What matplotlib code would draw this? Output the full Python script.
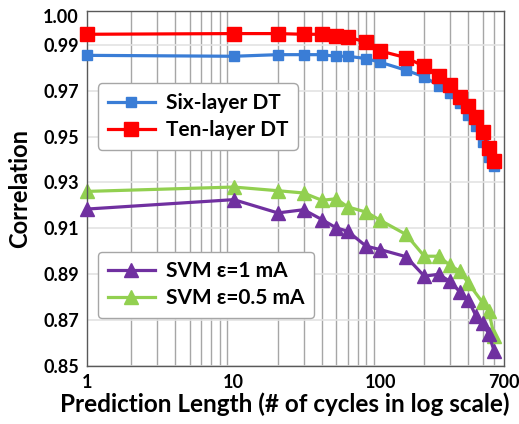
import matplotlib.pyplot as plt
from matplotlib.ticker import FixedLocator, NullFormatter

plt.rcParams['font.family'] = ['Lato', 'DejaVu Sans']

# prediction length (cycles)
x_dt = [1, 10, 20, 30, 40, 50, 60, 80, 100, 150, 200, 250, 300, 350, 400, 450, 500, 550, 600]
x_svm1 = [1, 10, 20, 30, 40, 50, 60, 80, 100, 150, 200, 250, 300, 350, 400, 450, 500, 550, 600]
x_svm05 = [1, 10, 20, 30, 40, 50, 60, 80, 100, 150, 200, 250, 300, 350, 400, 500, 550, 600]

six_layer = [0.9855, 0.9851, 0.9858, 0.9858, 0.9858, 0.9851, 0.9851, 0.9841, 0.9825, 0.9790,
             0.9761, 0.9723, 0.9689, 0.9645, 0.9594, 0.9547, 0.9478, 0.9410, 0.9370]
ten_layer = [0.9947, 0.9950, 0.9950, 0.9947, 0.9947, 0.9939, 0.9935, 0.9913, 0.9874, 0.9845,
             0.9807, 0.9764, 0.9725, 0.9672, 0.9634, 0.9588, 0.9522, 0.9450, 0.9394]
svm_1 = [0.9184, 0.9225, 0.9167, 0.9181, 0.9138, 0.9102, 0.9087, 0.9022, 0.9007, 0.8976,
         0.8891, 0.8899, 0.8868, 0.8822, 0.8786, 0.8718, 0.8685, 0.8640, 0.8563]
svm_05 = [0.9261, 0.9280, 0.9264, 0.9254, 0.9222, 0.9229, 0.9193, 0.9171, 0.9135, 0.9073,
          0.8978, 0.8978, 0.8938, 0.8912, 0.8860, 0.8776, 0.8739, 0.8630]

x_ticks = [1, 10, 100, 700]
y_ticks = [0.85, 0.87, 0.89, 0.91, 0.93, 0.95, 0.97, 0.99]

fig = plt.figure(figsize=(5.19, 4.24), dpi=100)
ax = fig.add_axes([0.1682, 0.1375, 0.8029, 0.8373])

ax.set_xscale('log')
ax.set_xlim(1, 700)
ax.set_ylim(0.85, 1.005)

# vertical minor grid (2..9 of each decade), light horizontal grid
minor = [m * d for d in (1, 10, 100) for m in range(2, 10) if m * d < 700]
ax.xaxis.set_minor_locator(FixedLocator(minor))
ax.xaxis.set_minor_formatter(NullFormatter())
ax.grid(which='minor', axis='x', color='#a6a6a6', lw=1.0)
ax.set_xticks(x_ticks)
ax.set_xticklabels([str(t) for t in x_ticks])
ax.set_yticks(y_ticks + [1.0027])
ax.set_yticklabels(['%.2f' % t for t in y_ticks] + ['1.00'])
ax.grid(which='major', axis='y', color='#e3e3e3', lw=1.2)
ax.get_ygridlines()[-1].set_visible(False)
ax.set_axisbelow(True)
ax.tick_params(which='both', length=0, labelsize=13, pad=6)
for lab in ax.get_xticklabels() + ax.get_yticklabels():
    lab.set_fontweight('bold')
for s in ax.spines.values():
    s.set_color('#595959')
    s.set_linewidth(1.0)

l1, = ax.plot(x_dt, six_layer, '-s', color='#3a7dd6', lw=2.3, ms=7.5, label='Six-layer DT', clip_on=False, zorder=3)
l2, = ax.plot(x_dt, ten_layer, '-s', color='#ff0000', lw=2.3, ms=10, label='Ten-layer DT', clip_on=False, zorder=4)
l3, = ax.plot(x_svm1, svm_1, '-^', color='#7030a0', lw=2.3, ms=10, label='SVM ε=1 mA', clip_on=False, zorder=3)
l4, = ax.plot(x_svm05, svm_05, '-^', color='#92d050', lw=2.3, ms=10, label='SVM ε=0.5 mA', clip_on=False, zorder=2)

leg_kw = dict(prop={'weight': 'bold', 'size': 15}, frameon=True, fancybox=True,
              edgecolor='#a6a6a6', framealpha=1, handlelength=2.3, borderpad=0.45,
              labelspacing=0.35, handletextpad=0.5, borderaxespad=0)
leg1 = ax.legend(handles=[l1, l2], loc='upper left', bbox_to_anchor=(0.026, 0.795), **leg_kw)
ax.add_artist(leg1)
ax.legend(handles=[l3, l4], loc='upper left', bbox_to_anchor=(0.026, 0.321), **leg_kw)

ax.set_xlabel('Prediction Length (# of cycles in log scale)', fontsize=17.5, fontweight='bold')
ax.xaxis.set_label_coords(0.474, -0.075)
ax.set_ylabel('Correlation', fontsize=17, fontweight='bold', labelpad=9)

fig.savefig('out.png', dpi=100)
